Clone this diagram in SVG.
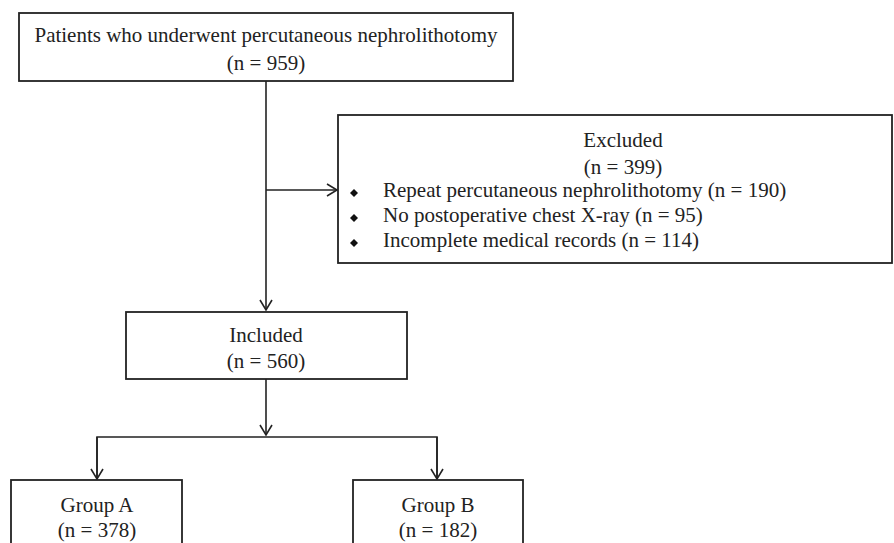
<svg xmlns="http://www.w3.org/2000/svg" width="894" height="543" viewBox="0 0 894 543">
<style>
.box{fill:#fff;stroke:#222;stroke-width:1.8}
.t{font-family:"Liberation Serif","Times New Roman",serif;font-size:21px;fill:#222}
.c{text-anchor:middle}
.ln{fill:none;stroke:#222;stroke-width:1.6}
</style>
<defs>
<marker id="ah" markerWidth="14" markerHeight="14" refX="11" refY="7" orient="auto" markerUnits="userSpaceOnUse">
<path d="M1,1 L11,7 L1,13" fill="none" stroke="#222" stroke-width="1.6"/>
</marker>
</defs>
<g id="connectors">
<line class="ln" x1="266" y1="81" x2="266" y2="310" marker-end="url(#ah)"/>
<line class="ln" x1="266" y1="190" x2="337" y2="190" marker-end="url(#ah)"/>
<line class="ln" x1="266" y1="379" x2="266" y2="435" marker-end="url(#ah)"/>
<polyline class="ln" points="97,479 97,437 437,437 437,479"/>
<line class="ln" x1="97" y1="437" x2="97" y2="479" marker-end="url(#ah)"/>
<line class="ln" x1="437" y1="437" x2="437" y2="479" marker-end="url(#ah)"/>
</g>
<g id="patients">
<rect class="box" x="19" y="13" width="494" height="68"/>
<text class="t c" x="266" y="42">Patients who underwent percutaneous nephrolithotomy</text>
<text class="t c" x="266" y="70">(n = 959)</text>
</g>
<g id="excluded">
<rect class="box" x="338" y="115" width="554" height="148"/>
<text class="t c" x="623" y="147">Excluded</text>
<text class="t c" x="623" y="174">(n = 399)</text>
<path d="M354,189 l4,4 l-4,4 l-4,-4z M354,214 l4,4 l-4,4 l-4,-4z M354,239 l4,4 l-4,4 l-4,-4z" fill="#111"/>
<text class="t" x="383" y="197">Repeat percutaneous nephrolithotomy (n = 190)</text>
<text class="t" x="383" y="222">No postoperative chest X-ray (n = 95)</text>
<text class="t" x="383" y="247">Incomplete medical records (n = 114)</text>
</g>
<g id="included">
<rect class="box" x="126" y="312" width="281" height="67"/>
<text class="t c" x="266" y="342">Included</text>
<text class="t c" x="266" y="368">(n = 560)</text>
</g>
<g id="groupA">
<rect class="box" x="11" y="480" width="171" height="80"/>
<text class="t c" x="97" y="512">Group A</text>
<text class="t c" x="97" y="537">(n = 378)</text>
</g>
<g id="groupB">
<rect class="box" x="353" y="480" width="170" height="80"/>
<text class="t c" x="438" y="512">Group B</text>
<text class="t c" x="438" y="537">(n = 182)</text>
</g>
</svg>
